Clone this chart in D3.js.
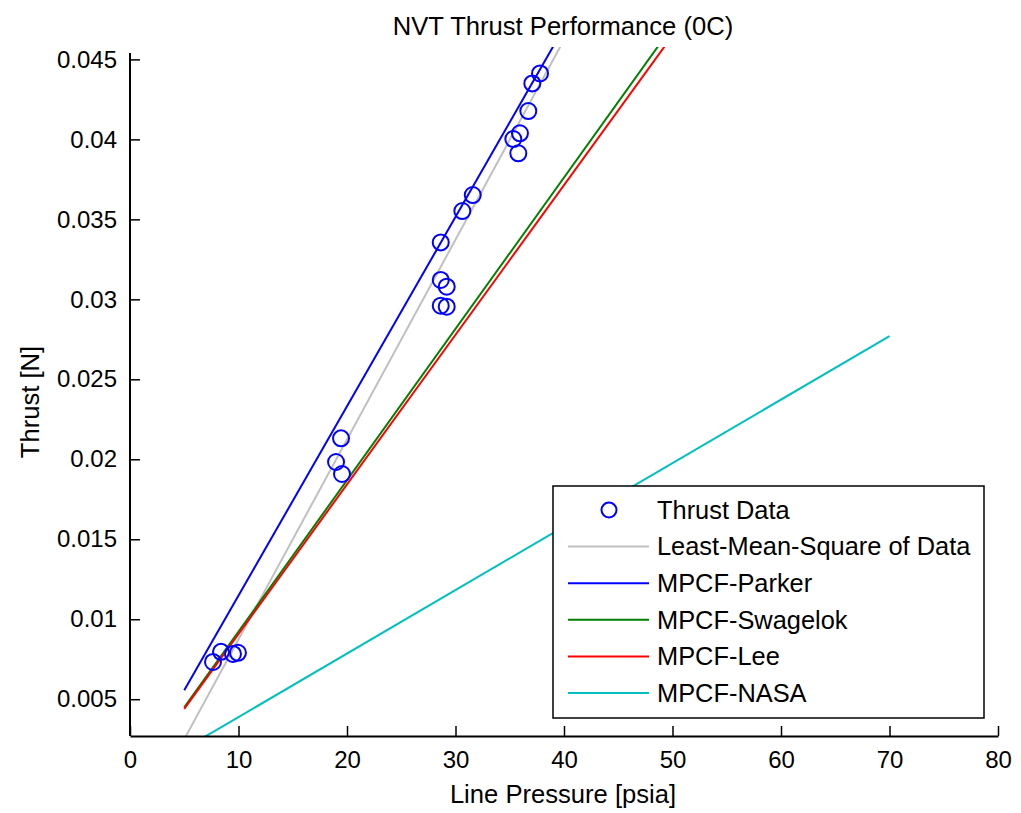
<!DOCTYPE html>
<html>
<head>
<meta charset="utf-8">
<script src="https://cdn.jsdelivr.net/npm/d3@7"></script>
<style>
  body { margin: 0; background: #fff; }
  svg { font-family: "Liberation Sans", Arial, sans-serif; }
</style>
</head>
<body>
<svg id="chart" width="1021" height="813"></svg>
<script>
// measured thrust data
var pressure = [7.65, 8.39, 9.49, 9.95, 18.99, 19.45, 19.54, 28.64, 28.64, 28.64, 29.19, 29.19, 30.63, 31.59, 35.33, 35.79, 35.94, 36.71, 37.08, 37.79]
var thrust = [0.00733, 0.00796, 0.00783, 0.0079, 0.01983, 0.02131, 0.01908, 0.0296, 0.03121, 0.03356, 0.03079, 0.02954, 0.03552, 0.03652, 0.04002, 0.03913, 0.04038, 0.04177, 0.0435, 0.04412]

// model lines, pressure range and thrust at its ends
var modelPressure = [5, 70]
var lmsThrust = [0.0025, 0.0837]
var parkerThrust = [0.00556, 0.0825]
var swagelokThrust = [0.0045, 0.066]
var leeThrust = [0.0044, 0.0652]
var nasaThrust = [0.0019, 0.0277]

var xTicks = [0, 10, 20, 30, 40, 50, 60, 70, 80]
var yTicks = [0.005, 0.01, 0.015, 0.02, 0.025, 0.03, 0.035, 0.04, 0.045]

var series = [
  {name: 'Least-Mean-Square of Data', values: lmsThrust, color: '#c0c0c0'},
  {name: 'MPCF-Parker', values: parkerThrust, color: '#0000ff'},
  {name: 'MPCF-Swagelok', values: swagelokThrust, color: '#008000'},
  {name: 'MPCF-Lee', values: leeThrust, color: '#ff0000'},
  {name: 'MPCF-NASA', values: nasaThrust, color: '#00bfbf'}
]

var svg = d3.select('#chart')
var axLeft = 130, axRight = 998, axTop = 53, axBottom = 736

var x = d3.scaleLinear().domain([0, 80]).range([axLeft, axRight])
var y = d3.scaleLinear().domain([0.0027, 0.0454]).range([axBottom, axTop])

svg.append('clipPath').attr('id', 'clip')
  .append('rect').attr('x', axLeft).attr('y', 47).attr('width', axRight - axLeft).attr('height', axBottom - 47)

var plot = svg.append('g').attr('clip-path', 'url(#clip)')

var line = d3.line()
  .x(function(d) { return x(d[0]) })
  .y(function(d) { return y(d[1]) })

series.forEach(function(s) {
  plot.append('path')
    .datum(modelPressure.map(function(p, i) { return [p, s.values[i]] }))
    .attr('d', line)
    .attr('fill', 'none')
    .attr('stroke', s.color)
    .attr('stroke-width', 2)
})

plot.selectAll('circle.pt')
  .data(pressure.map(function(p, i) { return [p, thrust[i]] }))
  .enter().append('circle')
  .attr('class', 'pt')
  .attr('cx', function(d) { return x(d[0]) })
  .attr('cy', function(d) { return y(d[1]) })
  .attr('r', 8)
  .attr('fill', 'none')
  .attr('stroke', '#0000ff')
  .attr('stroke-width', 2)

// axes, ticks point inward like matlab
var xAxis = d3.axisBottom(x).tickValues(xTicks).tickSizeInner(-10).tickSizeOuter(0).tickPadding(15)
var yAxis = d3.axisLeft(y).tickValues(yTicks).tickSizeInner(-10).tickSizeOuter(0).tickPadding(13)
  .tickFormat(function(d) { return String(+d.toFixed(3)) })

var gx = svg.append('g').attr('transform', 'translate(0,' + axBottom + ')').call(xAxis)
var gy = svg.append('g').attr('transform', 'translate(' + axLeft + ',0)').call(yAxis)
gy.select('.domain').attr('d', 'M0,' + axTop + 'V' + axBottom)

;[gx, gy].forEach(function(g) {
  g.select('.domain').attr('stroke', '#000').attr('stroke-width', 2)
  g.selectAll('.tick line').attr('stroke', '#000').attr('stroke-width', 1.5)
  g.selectAll('.tick text').attr('fill', '#000').style('font-size', '24px')
    .style('font-family', '"Liberation Sans", Arial, sans-serif')
})

svg.append('text').attr('x', 563).attr('y', 35).attr('text-anchor', 'middle')
  .style('font-size', '25.6px').text('NVT Thrust Performance (0C)')
svg.append('text').attr('x', 563).attr('y', 803).attr('text-anchor', 'middle')
  .style('font-size', '25.6px').text('Line Pressure [psia]')
svg.append('text').attr('transform', 'translate(39,402) rotate(-90)').attr('text-anchor', 'middle')
  .style('font-size', '25.6px').text('Thrust [N]')

// legend
var lg = svg.append('g')
lg.append('rect').attr('x', 553).attr('y', 486).attr('width', 431).attr('height', 232)
  .attr('fill', '#fff').attr('stroke', '#000').attr('stroke-width', 1.5)

var rowY = function(i) { return 510 + i * 36.6 }
lg.append('circle').attr('cx', 609).attr('cy', rowY(0)).attr('r', 7.5)
  .attr('fill', 'none').attr('stroke', '#0000ff').attr('stroke-width', 2)
lg.append('text').attr('x', 657).attr('y', rowY(0)).attr('dy', '0.35em')
  .style('font-size', '25.4px').text('Thrust Data')

series.forEach(function(s, i) {
  lg.append('line').attr('x1', 568).attr('x2', 649).attr('y1', rowY(i + 1)).attr('y2', rowY(i + 1))
    .attr('stroke', s.color).attr('stroke-width', 2)
  lg.append('text').attr('x', 657).attr('y', rowY(i + 1)).attr('dy', '0.35em')
    .style('font-size', '25.4px').text(s.name)
})
</script>
</body>
</html>
